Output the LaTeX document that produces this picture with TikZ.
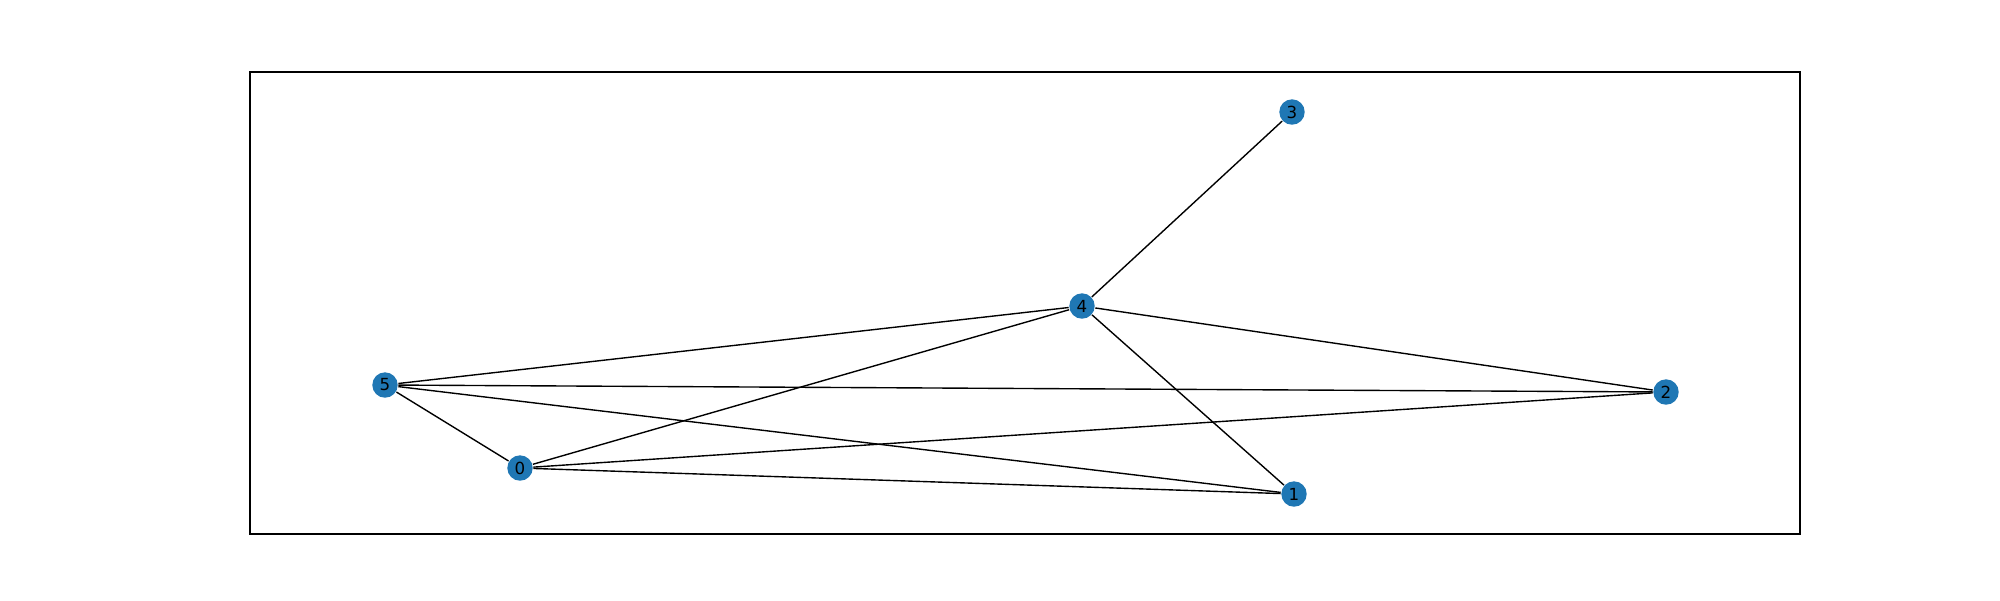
\documentclass[tikz,border=0pt]{standalone}
\usepackage{fontspec}
\setmainfont{DejaVu Sans}
\definecolor{nxblue}{HTML}{1F77B4}
\tikzset{vertex/.style={circle, fill=nxblue, inner sep=0pt, minimum size=18.3pt, font=\fontsize{12}{12}\selectfont}}

\begin{document}
\begin{tikzpicture}[x=0.72pt, y=-0.72pt, line width=1pt]
	\useasboundingbox (0,0) rectangle (2000,600);
	\draw[line width=0.8pt] (250,72) rectangle (1800,534);

	\node[vertex] (n0) at (520,468) {0};
	\node[vertex] (n1) at (1294,494) {1};
	\node[vertex] (n2) at (1666,392) {2};
	\node[vertex] (n3) at (1292,112) {3};
	\node[vertex] (n4) at (1082,306) {4};
	\node[vertex] (n5) at (385,385) {5};

	\draw (n4) -- (n3);
	\draw (n4) -- (n5);
	\draw (n4) -- (n0);
	\draw (n4) -- (n2);
	\draw (n4) -- (n1);
	\draw (n5) -- (n2);
	\draw (n5) -- (n0);
	\draw (n5) -- (n1);
	\draw (n0) -- (n2);
	\draw (n0) -- (n1);
\end{tikzpicture}
\end{document}
